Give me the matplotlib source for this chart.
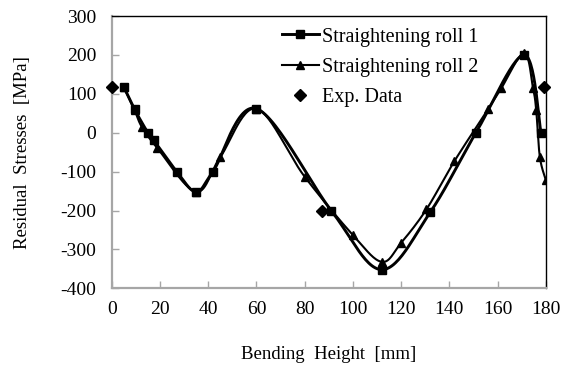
import numpy as np
import matplotlib
matplotlib.use("Agg")
import matplotlib.pyplot as plt
from matplotlib.lines import Line2D

# ---- data ----
roll1_x = [5, 9.5, 15, 17.5, 27, 35, 42, 60, 91, 112, 132, 151, 171, 178]
roll1_y = [118, 60, 0, -20, -100, -152, -100, 62, -200, -352, -205, 0, 200, 0]

roll2_x = [5, 9.5, 12.5, 19, 35, 45, 60, 80, 100, 112, 120, 130.5, 142, 156,
           161.5, 171, 174.7, 176, 177.5, 180]
roll2_y = [118, 58, 15, -40, -152, -63, 62, -113, -263, -332, -283, -197, -74,
           60, 114, 205, 114, 58, -62, -122]

exp_x = [0, 87, 179.2]
exp_y = [118, -200, 118]

x_ticks = [0, 20, 40, 60, 80, 100, 120, 140, 160, 180]
y_ticks = [-400, -300, -200, -100, 0, 100, 200, 300]

labels = ["Straightening roll 1", "Straightening roll 2", "Exp. Data"]


def smooth(xs, ys, n=30):
    """Excel-like smoothed line (Catmull-Rom Bezier through the points)."""
    p = np.column_stack([xs, ys]).astype(float)
    out = []
    m = len(p)
    t = np.linspace(0, 1, n)
    for i in range(m - 1):
        p0 = p[i - 1] if i > 0 else p[i]
        p1 = p[i]
        p2 = p[i + 1]
        p3 = p[i + 2] if i + 2 < m else p[i + 1]
        c1 = p1 + (p2 - p0) / 6.0
        c2 = p2 - (p3 - p1) / 6.0
        seg = ((1 - t) ** 3)[:, None] * p1 + (3 * (1 - t) ** 2 * t)[:, None] * c1 \
            + (3 * (1 - t) * t ** 2)[:, None] * c2 + (t ** 3)[:, None] * p2
        out.append(seg if i == 0 else seg[1:])
    s = np.vstack(out)
    return s[:, 0], s[:, 1]


plt.rcParams['font.family'] = ['Liberation Serif', 'DejaVu Serif']
plt.rcParams['axes.unicode_minus'] = False

fig = plt.figure(figsize=(5.61, 3.67), dpi=100)
ax = fig.add_axes([0.199, 0.2144, 0.7740, 0.742])

sx, sy = smooth(roll1_x, roll1_y)
ax.plot(sx, sy, color='black', lw=2.1, solid_capstyle='butt', zorder=3)
ax.plot(roll1_x, roll1_y, ls='none', marker='s', ms=6.2, color='black', zorder=4)

tx, ty = smooth(roll2_x, roll2_y)
ax.plot(tx, ty, color='black', lw=1.5, zorder=3)
ax.plot(roll2_x, roll2_y, ls='none', marker='^', ms=6, color='black', zorder=4)

ax.plot(exp_x, exp_y, ls='none', marker='D', ms=5.8, color='black', zorder=5,
        clip_on=False)

ax.set_xlim(0, 180)
ax.set_ylim(-400, 300)
ax.set_xticks(x_ticks)
ax.set_yticks(y_ticks)
ax.tick_params(direction='in', length=5, width=1, color='#a6a6a6',
               labelsize=14, labelcolor='black')
ax.tick_params(axis='x', pad=9)
ax.tick_params(axis='y', pad=11)

for side in ['left', 'bottom']:
    ax.spines[side].set_color('#a6a6a6')
    ax.spines[side].set_linewidth(1.6)
for side in ['top', 'right']:
    ax.spines[side].set_color('black')
    ax.spines[side].set_linewidth(1.0)

ax.set_xlabel("Bending  Height  [mm]", fontsize=13.5, labelpad=20)
ax.set_ylabel("Residual  Stresses  [MPa]", fontsize=13.5, labelpad=21)

handles = [
    Line2D([], [], color='black', lw=2.1, marker='s', ms=6.2),
    Line2D([], [], color='black', lw=1.5, marker='^', ms=6),
    Line2D([], [], color='black', ls='none', marker='D', ms=5.8),
]
ax.legend(handles, labels, loc='upper left', bbox_to_anchor=(0.392, 0.958),
          frameon=False, fontsize=14.5, handlelength=1.85, handletextpad=0.12,
          labelspacing=0.55, borderpad=0, borderaxespad=0, numpoints=1)

fig.savefig("out.png", dpi=100)
